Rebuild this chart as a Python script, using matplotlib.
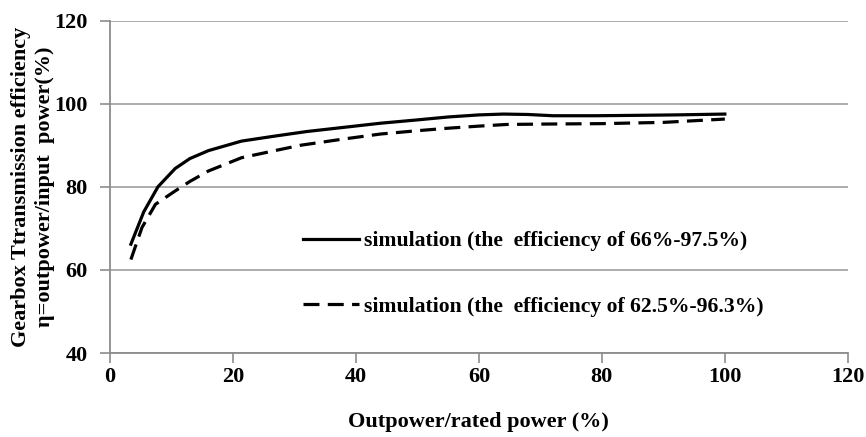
import matplotlib.pyplot as plt

# Output power / rated power (%) and efficiency (%)
x_sim1 = [3.4, 5.5, 7.8, 10.6, 13, 16, 21.4, 26.8, 32, 38, 44, 50, 55, 60, 64, 68, 72, 79, 86, 92, 96, 100]
eff_sim1 = [66.2, 74.0, 80.0, 84.4, 86.8, 88.7, 91.0, 92.2, 93.3, 94.3, 95.3, 96.1, 96.8, 97.3, 97.5, 97.4, 97.1, 97.1, 97.2, 97.3, 97.4, 97.5]

x_sim2 = [3.4, 5.2, 7.4, 10.6, 13, 16, 21.4, 26.8, 31, 38, 44, 50, 55, 60, 64.5, 71, 80, 90, 95, 100]
eff_sim2 = [62.5, 70.2, 75.8, 79.0, 81.3, 83.8, 87.0, 88.7, 90.0, 91.5, 92.7, 93.5, 94.1, 94.6, 95.0, 95.1, 95.2, 95.5, 95.9, 96.3]

label1 = "simulation (the  efficiency of 66%-97.5%)"
label2 = "simulation (the  efficiency of 62.5%-96.3%)"

plt.rcParams["font.family"] = ["Liberation Serif", "DejaVu Serif"]
plt.rcParams["font.weight"] = "bold"

fig = plt.figure(figsize=(8.66, 4.37), dpi=100)
ax = fig.add_axes([0.127, 0.192, 0.852, 0.761])

ax.plot(x_sim1, eff_sim1, color="black", lw=2.3, label=label1)
ax.plot(x_sim2, eff_sim2, color="black", lw=2.3, ls=(0, (5, 2.6)), label=label2)

ax.set_xlim(0, 120)
ax.set_ylim(40, 120)
ax.set_xticks(range(0, 121, 20))
ax.set_yticks(range(40, 121, 20))
ax.tick_params(labelsize=16, color="#8c8c8c", length=7, width=1.2)
ax.tick_params(axis="y", pad=9)
ax.tick_params(axis="x", pad=3)
ax.grid(axis="y", color="#a6a6a6", lw=1.3)
ax.set_axisbelow(True)

for side in ["top", "right"]:
    ax.spines[side].set_visible(False)
for side in ["left", "bottom"]:
    ax.spines[side].set_color("#8c8c8c")
    ax.spines[side].set_linewidth(1.3)

ax.set_xlabel("Outpower/rated power (%)", fontsize=16, fontweight="bold", labelpad=18)
ax.set_ylabel("Gearbox Ttransmission efficiency\n\u03b7=outpower/input  power(%)",
              fontsize=16, fontweight="bold", linespacing=1.25)
ax.yaxis.set_label_coords(-0.075, 0.5)

ax.legend(loc="upper left", bbox_to_anchor=(303 / 866, 1 - 231 / 437),
          bbox_transform=fig.transFigure, frameon=False, borderpad=0, borderaxespad=0,
          labelspacing=2.1, handlelength=2.6, handletextpad=0.23,
          prop={"weight": "bold", "size": 15.6})

fig.savefig("out.png", dpi=100)
